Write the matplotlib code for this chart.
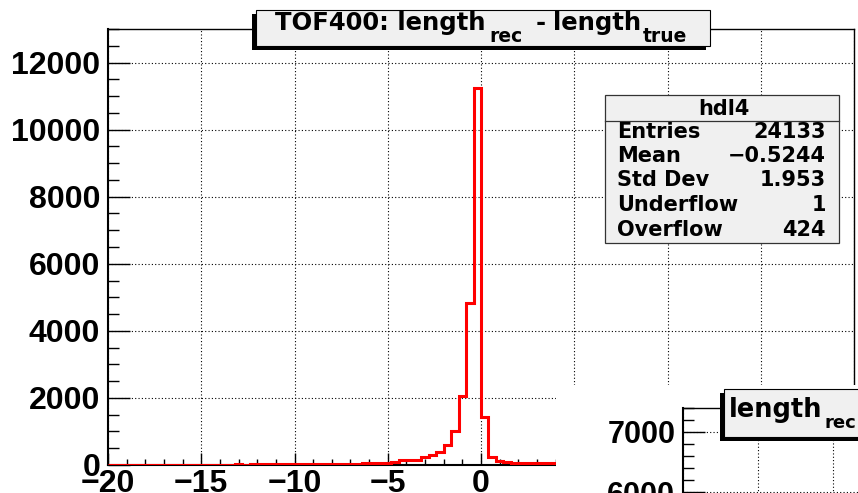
import numpy as np
import matplotlib.pyplot as plt
from matplotlib.patches import Rectangle
from matplotlib.ticker import MultipleLocator

# canvas size in pixels (dpi 100)
W, H = 858, 493

# hdl4: 100 bins of 0.4 between -20 and 20
bin_lo, bin_hi, n_bins = -20.0, 20.0, 100
counts = [
    1, 0, 2, 1, 2, 3, 2, 4, 10, 12,
    4, 5, 6, 12, 13, 12, 14, 15, 14, 16,
    17, 18, 19, 20, 22, 21, 24, 25, 27, 29,
    31, 34, 37, 40, 48, 55, 62, 72, 88,
    150, 150, 155, 225, 295, 385, 590, 1020, 2060, 4830, 11240,
    1420, 250, 125, 75, 68, 62, 58, 54, 50, 46,
    43, 40, 38, 36, 34, 32, 30, 28, 27, 26,
    25, 24, 22, 21, 20, 19, 18, 17, 16, 15,
    14, 14, 13, 12, 12, 11, 11, 10, 10, 9,
    9, 8, 8, 8, 7, 7, 7, 6, 6, 6,
]
y_max = 13000

hist_name = "hdl4"
stat_names = ["Entries", "Mean", "Std Dev", "Underflow", "Overflow"]
stat_values = ["24133", "\u22120.5244", "1.953", "1", "424"]

# title pieces: (text, is_subscript)
title_main = [("TOF400: length", False), ("rec", True),
              ("-", False), ("length", False), ("true", True)]
title_second = [("length", False), ("rec", True)]

# second (cut off) pad range
second_ylim = (2400, 7400)
second_xlim = (0, 4)

plt.rcParams['font.family'] = ['Liberation Sans', 'DejaVu Sans']
plt.rcParams['font.weight'] = 'bold'


def fx(x):
    return x / W


def fy(y):
    return 1 - y / H


def fig_box(fig, x0, y0, x1, y1, **kw):
    """Rectangle given in pixel coords (top-left origin)."""
    r = Rectangle((fx(x0), fy(y1)), fx(x1) - fx(x0), fy(y0) - fy(y1),
                  transform=fig.transFigure, **kw)
    fig.add_artist(r)
    return r


def chain_text(fig, x, base, pieces, size, sub_size, sub_drop, gaps, zorder):
    """Write ROOT-like text with subscripts, piece after piece."""
    renderer = fig.canvas.get_renderer()
    for (txt, is_sub), gap in zip(pieces, gaps):
        x += gap
        t = fig.text(fx(x), fy(base + (sub_drop if is_sub else 0)), txt,
                     ha='left', va='baseline', family='DejaVu Sans',
                     weight='bold', fontsize=sub_size if is_sub else size,
                     zorder=zorder)
        x = t.get_window_extent(renderer).x1


def style_axis(ax, ymajor, yminor, xmajor, xminor):
    ax.yaxis.set_major_locator(MultipleLocator(ymajor))
    ax.yaxis.set_minor_locator(MultipleLocator(yminor))
    ax.xaxis.set_major_locator(MultipleLocator(xmajor))
    ax.xaxis.set_minor_locator(MultipleLocator(xminor))
    ax.tick_params(axis='both', which='both', direction='in', top=False,
                   right=False, width=1.0, colors='black')
    ax.tick_params(axis='y', which='major', length=16, pad=5.5, labelsize=23)
    ax.tick_params(axis='y', which='minor', length=8)
    ax.tick_params(axis='x', which='major', length=9, pad=3, labelsize=23)
    ax.tick_params(axis='x', which='minor', length=4.5)
    for lab in ax.get_xticklabels() + ax.get_yticklabels():
        lab.set_fontweight('bold')
    ax.grid(True, which='major', color='black', lw=0.8, ls=(0, (1, 2)))
    for s in ax.spines.values():
        s.set_linewidth(1.0)
    ax.spines['left'].set_linewidth(1.5)
    ax.spines['bottom'].set_linewidth(1.5)


fig = plt.figure(figsize=(W / 100, H / 100), dpi=100)

# main pad
ax = fig.add_axes([fx(108), fy(465), fx(854) - fx(108), fy(29) - fy(465)])
edges = np.linspace(bin_lo, bin_hi, n_bins + 1)
ax.stairs(counts, edges, color='red', lw=2.2, baseline=0, zorder=3)
ax.set_xlim(bin_lo, bin_hi)
ax.set_ylim(0, y_max)
style_axis(ax, 2000, 500, 5, 1)

# title box with shadow
fig_box(fig, 252, 14, 706, 50, facecolor='black', edgecolor='none', zorder=5)
fig_box(fig, 256, 10, 710, 46, facecolor='#f0f0f0', edgecolor='black',
        lw=0.8, zorder=6)
chain_text(fig, 275, 30, title_main, 17.5, 13.5, 12, [0, 4, 13, 7, 2], 7)

# stats box
fig_box(fig, 605, 95, 839, 243, facecolor='#f0f0f0', edgecolor='#333333',
        lw=0.9, zorder=5)
fig.add_artist(plt.Line2D([fx(605), fx(839)], [fy(121), fy(121)],
                          transform=fig.transFigure, color='#333333',
                          lw=0.9, zorder=6))
fig.text(fx(724), fy(115), hist_name, ha='center', va='baseline',
         fontsize=15, family='DejaVu Sans', weight='bold', zorder=7)
row_y = [137.5, 162, 186.5, 211, 235.5]
for name, val, yy in zip(stat_names, stat_values, row_y):
    fig.text(fx(617), fy(yy), name, ha='left', va='baseline',
             fontsize=15, family='DejaVu Sans', weight='bold', zorder=7)
    fig.text(fx(826), fy(yy), val, ha='right', va='baseline',
             fontsize=15, family='DejaVu Sans', weight='bold', zorder=7)

# next pad covers the lower right corner
fig_box(fig, 556, 385, W + 5, H + 5, facecolor='white', edgecolor='none',
        zorder=8)

ax2 = fig.add_axes([fx(683), fy(708), fx(983) - fx(683), fy(408) - fy(708)],
                   zorder=9)
ax2.set_xlim(*second_xlim)
ax2.set_ylim(*second_ylim)
style_axis(ax2, 1000, 200, 1, 0.2)
ax2.tick_params(axis='y', which='major', labelsize=22)

fig_box(fig, 720, 393, W + 40, 441, facecolor='black', edgecolor='none',
        zorder=10)
fig_box(fig, 724, 389, W + 40, 437, facecolor='#f0f0f0', edgecolor='black',
        lw=0.8, zorder=11)
chain_text(fig, 729, 417, title_second, 18.5, 13, 11, [0, 2], 12)

fig.savefig("out.png", dpi=100)
